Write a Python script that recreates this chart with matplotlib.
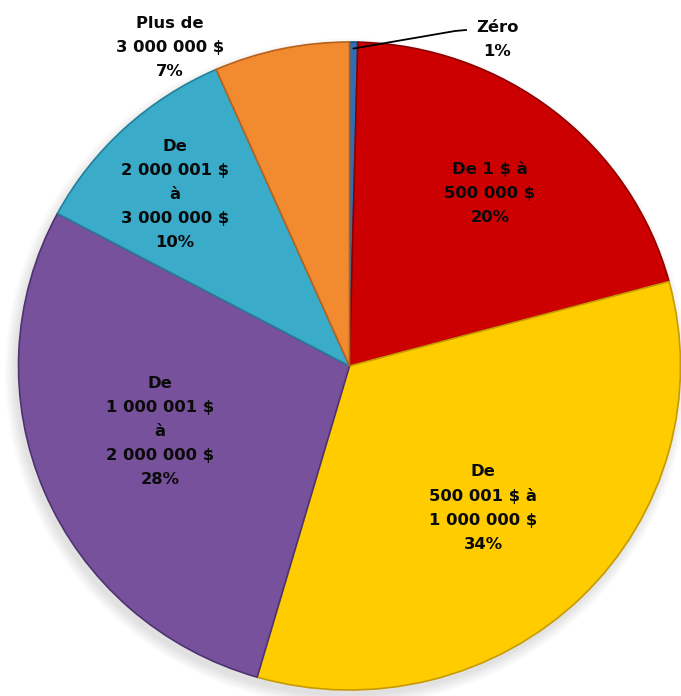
import numpy as np
import matplotlib.pyplot as plt
from matplotlib.patches import Ellipse

# share of each bracket (clockwise from 12 o'clock)
labels = [
    "Zéro\n1%",
    "De 1 $ à\n500 000 $\n20%",
    "De\n500 001 $ à\n1 000 000 $\n34%",
    "De\n1 000 001 $\nà\n2 000 000 $\n28%",
    "De\n2 000 001 $\nà\n3 000 000 $\n10%",
    "Plus de\n3 000 000 $\n7%",
]
values = [0.4, 20.4, 33.7, 28.3, 10.6, 6.6]
colors = ["#2f6eb5", "#cc0000", "#ffcc00", "#77519c", "#3aabc9", "#f28a30"]
edges = ["#1d4b80", "#8e0000", "#c79a00", "#4f3370", "#23809a", "#b8621c"]

# label centres in pixels of the 681x696 figure
label_px = [(497, 40), (490, 193), (483, 508), (160, 432), (175, 195), (170, 48)]

W, H = 681, 696
cx, cy = 349.5, 366
rx, ry = 331, 324

fig = plt.figure(figsize=(W / 100, H / 100), dpi=100)
ax = fig.add_axes([0, 0, 1, 1])

# soft shadow under the pie
for k in range(6):
    ax.add_patch(Ellipse((-0.01, -0.02), 2.0 + 0.012 * k, 2.0 + 0.012 * k,
                         color="#000000", alpha=0.02, lw=0, zorder=0))

wedges, _ = ax.pie(values, colors=colors, startangle=90, counterclock=False,
                   wedgeprops=dict(linewidth=1.2))
for w, ec in zip(wedges, edges):
    w.set_edgecolor(ec)
    w.set_zorder(2)

ax.set_aspect("auto")
ax.set_xlim(-cx / rx, (W - cx) / rx)
ax.set_ylim(-(H - cy) / ry, cy / ry)
ax.axis("off")


def to_data(px, py):
    return (px - cx) / rx, (cy - py) / ry


for lab, (px, py) in zip(labels, label_px):
    x, y = to_data(px, py)
    ax.text(x, y, lab, ha="center", va="center", fontsize=11.8,
            fontweight="bold", family="DejaVu Sans", linespacing=1.75,
            color="#0a0a0a", zorder=5)

# leader line for the tiny "Zéro" slice
w0 = wedges[0]
mid = np.deg2rad((w0.theta1 + w0.theta2) / 2)
x0, y0 = np.cos(mid) * 0.98, np.sin(mid) * 0.98
x1, y1 = to_data(455, 31)
x2, y2 = to_data(466, 30)
ax.plot([x0, x1, x2], [y0, y1, y2], color="black", lw=1.3, zorder=4)

fig.savefig("out.png", dpi=100)
